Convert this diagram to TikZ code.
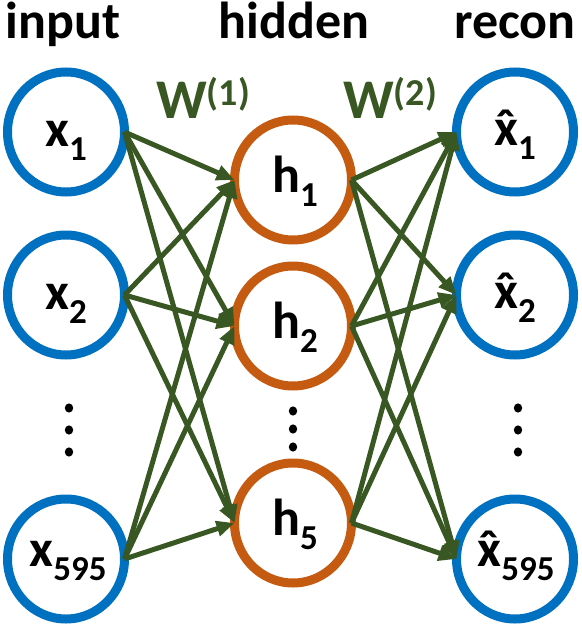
\documentclass[tikz,border=0pt]{standalone}
\usepackage{fontspec}
\setmainfont{Carlito}
\usetikzlibrary{shapes.geometric,arrows.meta}
\definecolor{nblue}{HTML}{0070C0}
\definecolor{norange}{HTML}{C55A11}
\definecolor{ngreen}{HTML}{385723}
\newcommand\subx[1]{\raisebox{-14pt}{\fontsize{35}{35}\selectfont #1}}
\newcommand\supw[1]{\raisebox{13pt}{\fontsize{38}{38}\selectfont (#1)}}
\newcommand\hatx{\accent"02C6 x}
\begin{document}
\begin{tikzpicture}[x=1pt,y=-1pt,
  neuron/.style={ellipse,minimum width=117pt,minimum height=120pt,inner sep=0pt,outer sep=0pt,line width=9pt,fill=white},
  inneuron/.style={neuron,draw=nblue},
  hidneuron/.style={neuron,draw=norange},
  lbl/.style={anchor=base,inner sep=0pt,font=\fontsize{52}{52}\selectfont\bfseries},
  ttl/.style={anchor=base,inner sep=0pt,font=\fontsize{52}{52}\selectfont\bfseries},
  wlbl/.style={anchor=base west,inner sep=0pt,text=ngreen,font=\fontsize{56}{56}\selectfont\bfseries},
  conn/.style={draw=ngreen,line width=5pt,-{Triangle[length=18pt,width=15pt]}},
  dotmark/.style={fill=black}
]
\useasboundingbox (0,0) rectangle (581,626);

% titles
\node[ttl] (tin) at (63,39) {input};
\node[ttl] (thid) at (294,39) {hidden};
\node[ttl] (trec) at (515,39) {recon};

% weight labels
\node[wlbl] (w1) at (156,118) {W\supw{1}};
\node[wlbl] (w2) at (343,118) {W\supw{2}};

% neurons
\node[inneuron] (x1) at (66,132) {};
\node[inneuron] (x2) at (66,295) {};
\node[inneuron] (x3) at (66,559) {};
\node[hidneuron] (h1) at (293,180) {};
\node[hidneuron] (h2) at (293,326) {};
\node[hidneuron] (h3) at (293,523) {};
\node[inneuron] (y1) at (515,132) {};
\node[inneuron] (y2) at (515,295) {};
\node[inneuron] (y3) at (515,559) {};

% labels
\node[lbl] (lx1) at (66,146) {x\subx{1}};
\node[lbl] (lx2) at (66,309) {x\subx{2}};
\node[lbl] (lx3) at (68,566) {x\subx{595}};
\node[lbl] (lh1) at (295,192) {h\subx{1}};
\node[lbl] (lh2) at (295,338) {h\subx{2}};
\node[lbl] (lh3) at (295,535) {h\subx{5}};
\node[lbl] (ly1) at (515,145) {\hatx\subx{1}};
\node[lbl] (ly2) at (515,308) {\hatx\subx{2}};
\node[lbl] (ly3) at (516,566) {\hatx\subx{595}};

% connections
\foreach \s in {x1,x2,x3}{
  \foreach \t in {h1,h2,h3}{
    \draw[conn] (\s.east) -- (\t.west);
  }
}
\foreach \s in {h1,h2,h3}{
  \foreach \t in {y1,y2,y3}{
    \draw[conn] (\s.east) -- (\t.west);
  }
}

% ellipsis dots
\foreach \yy in {408,430,452}{
  \fill[dotmark] (69,\yy) ellipse [x radius=4.2pt, y radius=4.6pt];
  \fill[dotmark] (518,\yy) ellipse [x radius=4.2pt, y radius=4.6pt];
}
\foreach \yy in {411,429,447}{
  \fill[dotmark] (293,\yy) ellipse [x radius=4.2pt, y radius=4.6pt];
}
\end{tikzpicture}
\end{document}
